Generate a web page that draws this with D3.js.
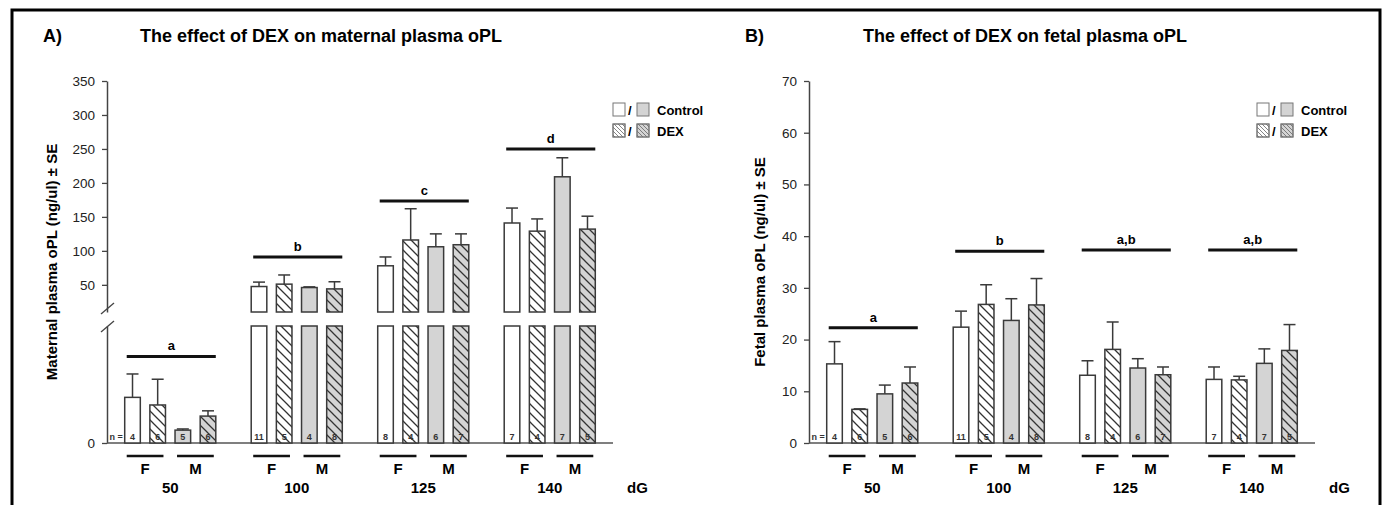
<!DOCTYPE html>
<html>
<head>
<meta charset="utf-8">
<script src="https://cdn.jsdelivr.net/npm/d3@7"></script>
<style>
  body { margin: 0; background: #fff; }
  svg { display: block; font-family: "Liberation Sans", Arial, sans-serif; }
</style>
</head>
<body>
<div id="chart"></div>
<script>
// ---- data ----
const groups = ["50", "100", "125", "140"];           // dG
const subgroups = ["F-Control", "F-DEX", "M-Control", "M-DEX"];
const sexes = ["F", "M"];

// maternal plasma oPL (lower broken segment covers 0-10)
const maternalMean = [[3.9, 3.25, 1.1, 2.3], [47.5, 51, 46, 44], [78, 116, 106, 109], [141, 129, 209, 132]];
const maternalSE = [[2.0, 2.2, 0.1, 0.45], [6.5, 13.5, 1, 10.5], [13, 46, 19, 16], [22, 18, 28, 19]];
const maternalSigLetters = ["a", "b", "c", "d"];
const maternalSigLevels = [7.4, 91, 173.5, 250];
const maternalTicks = [50, 100, 150, 200, 250, 300, 350];

// fetal plasma oPL
const fetalMean = [[15.3, 6.5, 9.5, 11.6], [22.4, 26.8, 23.7, 26.7], [13.1, 18.1, 14.5, 13.2], [12.3, 12.2, 15.4, 17.9]];
const fetalSE = [[4.3, 0.1, 1.7, 3.1], [3.1, 3.8, 4.2, 5.1], [2.8, 5.3, 1.8, 1.5], [2.4, 0.7, 2.8, 5.0]];
const fetalSigLetters = ["a", "b", "a,b", "a,b"];
const fetalSigLevels = [22.3, 37.1, 37.3, 37.3];
const fetalTicks = [0, 10, 20, 30, 40, 50, 60, 70];

// group sizes (same animals in both panels)
const nCounts = [[4, 6, 5, 6], [11, 5, 4, 8], [8, 4, 6, 7], [7, 4, 7, 5]];

const width = 1385, height = 505;
const plotW = 506, y0 = 443, yTop = 81;
const barStroke = "#3a3a3a", grayFill = "#d4d4d4";

const svg = d3.select("#chart").append("svg")
  .attr("width", width).attr("height", height);

// hatch patterns ("\" direction)
const defs = svg.append("defs");
function hatch(id, size, sw, color) {
  defs.append("pattern")
    .attr("id", id)
    .attr("patternUnits", "userSpaceOnUse")
    .attr("width", size).attr("height", size)
    .append("path")
    .attr("d", `M0,0 L${size},${size} M-1,${size - 1} L1,${size + 1} M${size - 1},-1 L${size + 1},1`)
    .attr("stroke", color).attr("stroke-width", sw);
}
hatch("hatchBar", 9, 1.3, "#333");
hatch("hatchLegend", 4, 0.8, "#666");

// outer frame
svg.append("rect")
  .attr("x", 12).attr("y", 10).attr("width", 1368).attr("height", 520)
  .attr("fill", "none").attr("stroke", "#000").attr("stroke-width", 3);

function drawPanel(p) {
  const g = svg.append("g");
  const ax = p.axisX;

  const xg = d3.scaleBand().domain(groups).range([ax, ax + plotW])
    .paddingInner(0.28).paddingOuter(0.14);
  const xs = d3.scaleBand().domain(subgroups).range([0, xg.bandwidth()])
    .paddingInner(0.38);

  // y scales: optional break
  let y, yLow, yHigh;
  if (p.broken) {
    yLow = d3.scaleLinear().domain([0, 10]).range([y0, 326]);
    yHigh = d3.scaleLinear().domain([10, 350]).range([312, yTop]);
    y = v => v <= 10 ? yLow(v) : yHigh(v);
  } else {
    y = d3.scaleLinear().domain([0, 70]).range([y0, yTop]);
  }

  // titles
  g.append("text").attr("x", p.letterX).attr("y", 42)
    .attr("font-size", 18).attr("font-weight", "bold").text(p.letter);
  g.append("text").attr("x", p.titleX).attr("y", 42)
    .attr("font-size", 18).attr("font-weight", "bold").text(p.title);

  // y axis title
  g.append("text")
    .attr("transform", `translate(${p.yTitleX},262) rotate(-90)`)
    .attr("text-anchor", "middle")
    .attr("font-size", 15).attr("font-weight", "bold")
    .text(p.yTitle);

  // y axes
  function styleAxis(sel) {
    sel.selectAll(".domain").attr("stroke", "#444").attr("stroke-width", 1.5);
    sel.selectAll(".tick line").attr("stroke", "#444").attr("stroke-width", 1.3);
    sel.selectAll(".tick text").attr("font-size", 13.5).attr("fill", "#222")
      .attr("font-family", "Liberation Sans, Arial, sans-serif");
  }
  if (p.broken) {
    const up = g.append("g").attr("transform", `translate(${ax},0)`)
      .call(d3.axisLeft(yHigh).tickValues(p.ticks).tickSize(5).tickSizeOuter(0).tickPadding(7));
    styleAxis(up);
    const lo = g.append("g").attr("transform", `translate(${ax},0)`)
      .call(d3.axisLeft(yLow).tickValues([0]).tickSize(5).tickSizeOuter(0).tickPadding(7));
    styleAxis(lo);
    // break marks
    [yHigh(10) - 3, yLow(10) + 1].forEach(by => {
      g.append("line")
        .attr("x1", ax - 6).attr("y1", by + 5).attr("x2", ax + 7).attr("y2", by - 6)
        .attr("stroke", "#444").attr("stroke-width", 1.3);
    });
  } else {
    const a = g.append("g").attr("transform", `translate(${ax},0)`)
      .call(d3.axisLeft(y).tickValues(p.ticks).tickSize(5).tickSizeOuter(0).tickPadding(7));
    styleAxis(a);
  }

  // x axis line
  g.append("line")
    .attr("x1", ax).attr("x2", ax + plotW).attr("y1", y0).attr("y2", y0)
    .attr("stroke", "#555").attr("stroke-width", 1.5);

  // bars
  const bw = xs.bandwidth();
  groups.forEach((grp, i) => {
    subgroups.forEach((sg, j) => {
      const x = xg(grp) + xs(sg);
      const m = p.mean[i][j], se = p.se[i][j];
      const fill = j < 2 ? "#fff" : grayFill;
      const segs = [];
      if (p.broken && m > 10) {
        segs.push([yLow(0), yLow(10)]);
        segs.push([yHigh(10), yHigh(m)]);
      } else {
        segs.push([y(0), y(m)]);
      }
      segs.forEach(([b, t]) => {
        g.append("rect").attr("x", x).attr("y", t).attr("width", bw).attr("height", b - t)
          .attr("fill", fill);
        if (j % 2 === 1) {
          g.append("rect").attr("x", x).attr("y", t).attr("width", bw).attr("height", b - t)
            .attr("fill", "url(#hatchBar)");
        }
        g.append("rect").attr("x", x).attr("y", t).attr("width", bw).attr("height", b - t)
          .attr("fill", "none").attr("stroke", barStroke).attr("stroke-width", 1.5);
      });
      // error bar (upper only)
      const cx = x + bw / 2;
      g.append("line").attr("x1", cx).attr("x2", cx).attr("y1", y(m)).attr("y2", y(m + se))
        .attr("stroke", barStroke).attr("stroke-width", 1.5);
      g.append("line").attr("x1", cx - 6).attr("x2", cx + 6).attr("y1", y(m + se)).attr("y2", y(m + se))
        .attr("stroke", barStroke).attr("stroke-width", 1.5);
      // n inside bar
      g.append("text").attr("x", cx).attr("y", 440).attr("text-anchor", "middle")
        .attr("font-size", 9).attr("font-weight", "bold").attr("fill", "#333").text(nCounts[i][j]);
    });

    // significance bar
    const sx1 = xg(grp) + xs(subgroups[0]) + 2, sx2 = xg(grp) + xs(subgroups[3]) + bw;
    const sy = y(p.sigLevels[i]);
    g.append("line").attr("x1", sx1).attr("x2", sx2).attr("y1", sy).attr("y2", sy)
      .attr("stroke", "#111").attr("stroke-width", 3);
    g.append("text").attr("x", (sx1 + sx2) / 2).attr("y", sy - 6).attr("text-anchor", "middle")
      .attr("font-size", 13).attr("font-weight", "bold").text(p.sigLetters[i]);

    // F / M underlines and labels
    sexes.forEach((s, k) => {
      const lx1 = xg(grp) + xs(subgroups[k * 2]) + 2;
      const lx2 = xg(grp) + xs(subgroups[k * 2 + 1]) + bw - 2;
      g.append("line").attr("x1", lx1).attr("x2", lx2).attr("y1", 456).attr("y2", 456)
        .attr("stroke", "#111").attr("stroke-width", 2.5);
      g.append("text").attr("x", (lx1 + lx2) / 2).attr("y", 474).attr("text-anchor", "middle")
        .attr("font-size", 15).attr("font-weight", "bold").text(s);
    });
    g.append("text").attr("x", xg(grp) + xg.bandwidth() / 2).attr("y", 493)
      .attr("text-anchor", "middle").attr("font-size", 15).attr("font-weight", "bold").text(grp);
  });

  // "n =" label
  g.append("text").attr("x", xg(groups[0]) + xs(subgroups[0]) - 2).attr("y", 440)
    .attr("text-anchor", "end").attr("font-size", 9).attr("font-weight", "bold")
    .attr("fill", "#333").text("n =");

  // dG
  g.append("text").attr("x", ax + plotW + 14).attr("y", 493)
    .attr("font-size", 15).attr("font-weight", "bold").text("dG");

  // legend
  const lg = g.append("g").attr("transform", `translate(${p.legendX},103)`);
  const rows = [["#fff", grayFill, "Control", false], ["#fff", grayFill, "DEX", true]];
  rows.forEach((r, k) => {
    const ry = k * 21;
    [[0, r[0]], [24, r[1]]].forEach(([bx, f]) => {
      lg.append("rect").attr("x", bx).attr("y", ry).attr("width", 12).attr("height", 13)
        .attr("fill", f).attr("stroke", "#777").attr("stroke-width", 1);
      if (r[3]) {
        lg.append("rect").attr("x", bx).attr("y", ry).attr("width", 12).attr("height", 13)
          .attr("fill", "url(#hatchLegend)").attr("stroke", "#777").attr("stroke-width", 1);
      }
    });
    lg.append("text").attr("x", 15).attr("y", ry + 12)
      .attr("font-size", 13).attr("font-weight", "bold").text("/");
    lg.append("text").attr("x", 44).attr("y", ry + 12)
      .attr("font-size", 13).attr("font-weight", "bold").text(r[2]);
  });
}

drawPanel({
  axisX: 107, broken: true,
  letter: "A)", letterX: 43,
  title: "The effect of DEX on maternal plasma oPL", titleX: 140,
  yTitle: "Maternal plasma oPL (ng/ul) \u00b1 SE", yTitleX: 57,
  mean: maternalMean, se: maternalSE,
  sigLetters: maternalSigLetters, sigLevels: maternalSigLevels,
  ticks: maternalTicks, legendX: 613
});

drawPanel({
  axisX: 809, broken: false,
  letter: "B)", letterX: 745,
  title: "The effect of DEX on fetal plasma oPL", titleX: 863,
  yTitle: "Fetal plasma oPL (ng/ul) \u00b1 SE", yTitleX: 765,
  mean: fetalMean, se: fetalSE,
  sigLetters: fetalSigLetters, sigLevels: fetalSigLevels,
  ticks: fetalTicks, legendX: 1257
});
</script>
</body>
</html>
